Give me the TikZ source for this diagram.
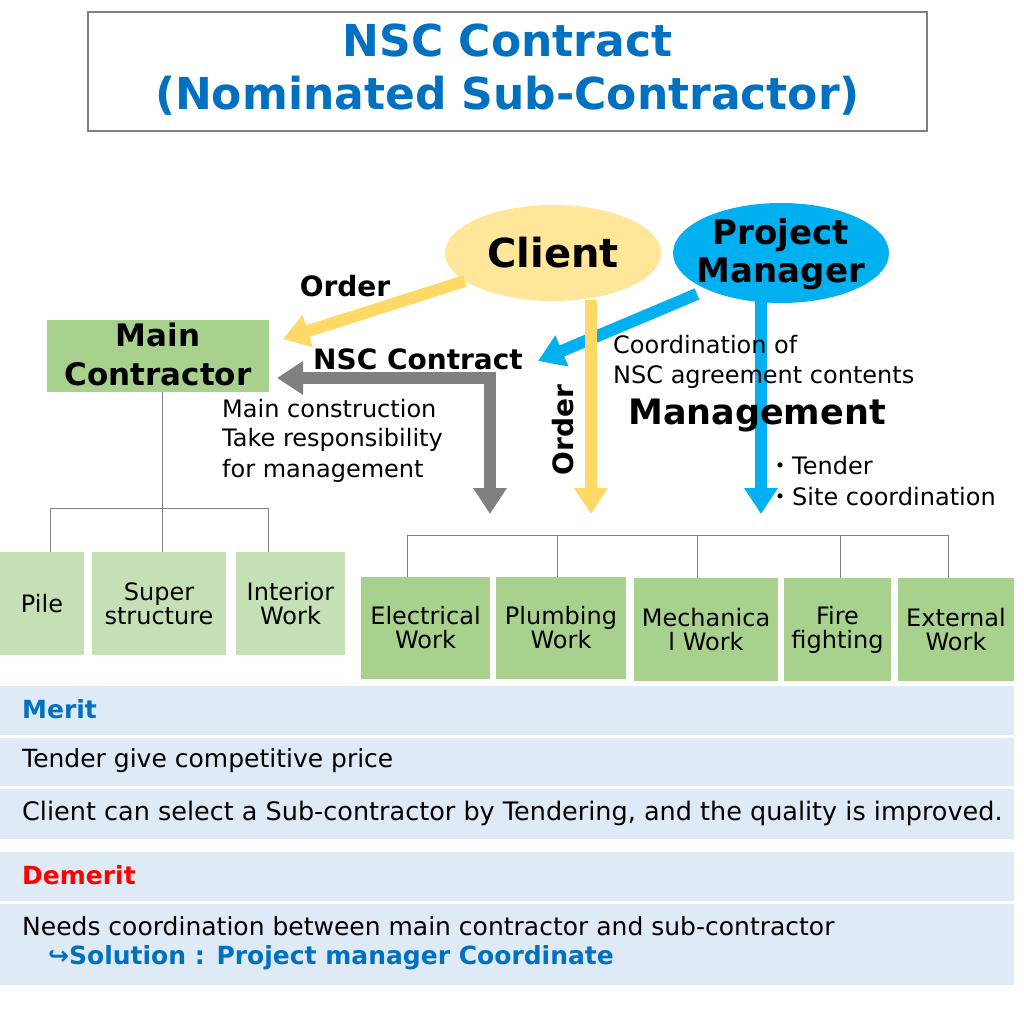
\documentclass[tikz,border=0pt]{standalone}
\usepackage{fontspec}
\setmainfont{DejaVu Sans}
\newfontfamily\cjk{Noto Sans CJK JP}
\usetikzlibrary{arrows.meta,shapes.geometric}
\definecolor{tblue}{RGB}{0,112,192}
\definecolor{cyel}{RGB}{255,230,153}
\definecolor{ayel}{RGB}{255,217,102}
\definecolor{pmblue}{RGB}{0,176,240}
\definecolor{dgreen}{RGB}{169,209,142}
\definecolor{lgreen}{RGB}{197,224,180}
\definecolor{rowbg}{RGB}{222,234,246}
\definecolor{agray}{RGB}{128,128,128}
\tikzset{
  fs/.style={font=\fontsize{#1}{#1}\selectfont},
  bfs/.style={font=\fontsize{#1}{#1}\selectfont\bfseries},
  bigarrow/.style={line width=12pt,draw=#1,-{Triangle[width=32pt,length=26pt]}},
  tree/.style={draw=agray,line width=1pt},
  row/.style={fill=rowbg,draw=none},
  lbl/.style={anchor=west,inner sep=0,fs=24},
  tlbl/.style={anchor=west,inner sep=0,fs=25},
  gbox/.style={inner sep=0,fs=24,align=center}
}
\begin{document}
\begin{tikzpicture}[x=1pt,y=-1pt]
\useasboundingbox (0,0) rectangle (1024,1024);
\fill[white] (0,0) rectangle (1024,1024);
% title
\node[draw=agray,line width=2pt,minimum width=839pt,minimum height=119pt,inner sep=0] (title) at (507.5,71.5) {};
\node[text=tblue,bfs=44] (t1) at (507.5,40) {NSC Contract};
\node[text=tblue,bfs=44] (t2) at (507.5,96) {(Nominated Sub-Contractor)};
% ellipses
\node[ellipse,fill=cyel,minimum width=216pt,minimum height=96pt,inner sep=0,bfs=40] (client) at (553,253) {Client};
\node[ellipse,fill=pmblue,minimum width=216pt,minimum height=100pt,inner sep=0] (pm) at (781,253) {};
\node[bfs=34,align=center,inner sep=0] (pmt) at (781,254) {Project\\[4pt]Manager};
% main contractor
\node[fill=dgreen,minimum width=222pt,minimum height=72pt,inner sep=0] (mc) at (158,356) {};
\node[bfs=31,align=center,inner sep=0] (mct) at (158,354) {Main\\[8pt]Contractor};
% arrows
\coordinate (ya) at (465,281);
\coordinate (yb) at (283,339);
\draw[bigarrow=ayel] (ya) -- (yb);
\node[bfs=28] (order1) at (345,286) {Order};
\coordinate (ba) at (697,294);
\coordinate (bb) at (538,361);
\draw[bigarrow=pmblue] (ba) -- (bb);
\node[bfs=28] (nsc) at (418,359) {NSC Contract};
\coordinate (gc) at (490,378);
\coordinate (gl) at (277,378);
\coordinate (gd) at (490,514);
\draw[bigarrow=agray] (gc) -- (gl);
\draw[bigarrow=agray] (484,378) -- (gc) -- (gd);
\coordinate (yv1) at (591,300);
\coordinate (yv2) at (591,514);
\draw[bigarrow=ayel] (yv1) -- (yv2);
\node[bfs=28,rotate=90] (order2) at (563,430) {Order};
\coordinate (bv1) at (761,300);
\coordinate (bv2) at (761,514);
\draw[bigarrow=pmblue] (bv1) -- (bv2);
% texts
\node[lbl] (m1) at (222,409) {Main construction};
\node[lbl] (m2) at (222,440) {Take responsibility};
\node[lbl] (m3) at (222,471) {for management};
\node[lbl] (c1) at (613,345) {Coordination of};
\node[lbl] (c2) at (613,377) {NSC agreement contents};
\node[bfs=35] (mg) at (757,416) {Management};
\node[lbl] (s1) at (768,466) {{\cjk ・}Tender};
\node[lbl] (s2) at (768,497) {{\cjk ・}Site coordination};
% left tree
\node[fill=lgreen,minimum width=84pt,minimum height=103pt,gbox] (pile) at (42,603.5) {Pile};
\node[fill=lgreen,minimum width=134pt,minimum height=103pt,gbox] (sup) at (159,603.5) {Super\\structure};
\node[fill=lgreen,minimum width=109pt,minimum height=103pt,gbox] (int) at (290.5,603.5) {Interior\\Work};
\coordinate (lj) at (162,508);
\draw[tree] (mc.south -| lj) -- (lj);
\draw[tree] (50,508) -- (268,508);
\draw[tree] (50,508) -- (50,552);
\draw[tree] (lj) -- (162,552);
\draw[tree] (268,508) -- (268,552);
% right tree
\node[fill=dgreen,minimum width=129pt,minimum height=102pt,gbox] (el) at (425.5,628) {Electrical\\Work};
\node[fill=dgreen,minimum width=130pt,minimum height=102pt,gbox] (pl) at (561,628) {Plumbing\\Work};
\node[fill=dgreen,minimum width=144pt,minimum height=103pt,gbox] (me) at (706,629.5) {Mechanica\\l Work};
\node[fill=dgreen,minimum width=107pt,minimum height=103pt,gbox] (ff) at (837.5,629.5) {Fire\\fighting};
\node[fill=dgreen,minimum width=116pt,minimum height=103pt,gbox] (ex) at (956,629.5) {External\\Work};
\draw[tree] (407,535) -- (948,535);
\draw[tree] (407,535) -- (407,577);
\draw[tree] (557,535) -- (557,577);
\draw[tree] (697,535) -- (697,578);
\draw[tree] (840,535) -- (840,578);
\draw[tree] (948,535) -- (948,578);
% table
\fill[row] (0,686) rectangle (1014,735);
\fill[row] (0,738) rectangle (1014,786);
\fill[row] (0,789) rectangle (1014,839);
\fill[row] (0,852) rectangle (1014,901);
\fill[row] (0,904) rectangle (1014,985);
\node[tlbl,text=tblue,bfs=25] (merit) at (22,709) {Merit};
\node[tlbl] (r1) at (22,761) {Tender give competitive price};
\node[tlbl,font=\fontsize{25.5}{25.5}\selectfont] (r2) at (22,813) {Client can select a Sub-contractor by Tendering, and the quality is improved.};
\node[tlbl,text=red,bfs=25] (dem) at (22,875) {Demerit};
\node[tlbl] (r3) at (22,926) {Needs coordination between main contractor and sub-contractor};
\node[tlbl,text=tblue,bfs=25] (r4) at (48,958) {↪Solution : Project manager Coordinate};
\end{tikzpicture}
\end{document}
